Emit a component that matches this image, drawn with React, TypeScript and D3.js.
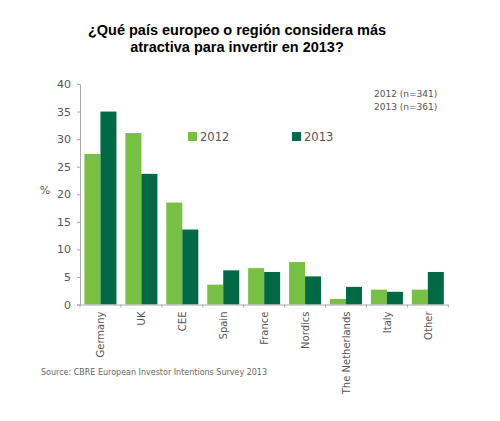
import { useEffect, useRef } from 'react';
import * as d3 from 'd3';

const categories = ['Germany', 'UK', 'CEE', 'Spain', 'France', 'Nordics', 'The Netherlands', 'Italy', 'Other'];
const values2012 = [27.3, 31.1, 18.5, 3.6, 6.6, 7.7, 1.0, 2.7, 2.7];
const values2013 = [35.0, 23.7, 13.6, 6.2, 5.9, 5.1, 3.2, 2.3, 5.9];
const yTicks = [0, 5, 10, 15, 20, 25, 30, 35, 40];
const titleLines = ['¿Qué país europeo o región considera más', 'atractiva para invertir en 2013?'];
const sampleNotes = ['2012 (n=341)', '2013 (n=361)'];

const light = '#77c043';
const dark = '#006a47';
const grey = '#555';

export default function App() {
  const svgRef = useRef<SVGSVGElement>(null);

  useEffect(() => {
    if (!svgRef.current) return;
    const width = 500;
    const height = 421;
    const svg = d3.select(svgRef.current);
    svg.selectAll('*').remove();
    svg.attr('width', width).attr('height', height).attr('viewBox', `0 0 ${width} ${height}`);

    const left = 80;
    const right = 448.3;
    const top = 84;
    const bottom = 304.5;

    // Scales
    const x = d3.scaleBand().domain(categories).range([left, right]).paddingInner(0).paddingOuter(0);
    const inner = d3.scaleBand().domain(['2012', '2013']).range([0, 32]);
    const y = d3.scaleLinear().domain([0, 40]).range([bottom, top]);

    // Title
    svg
      .append('g')
      .selectAll('text')
      .data(titleLines)
      .enter()
      .append('text')
      .attr('x', 237)
      .attr('y', (_, i) => 35 + i * 16.5)
      .attr('text-anchor', 'middle')
      .attr('font-family', 'Arial, "Liberation Sans", sans-serif')
      .attr('font-weight', 'bold')
      .attr('font-size', '14.5px')
      .attr('fill', '#000')
      .text((d) => d);

    // Bars
    const groups = svg
      .append('g')
      .selectAll('g')
      .data(categories)
      .enter()
      .append('g')
      .attr('transform', (d) => `translate(${x(d)! + (x.bandwidth() - 32) / 2},0)`);

    groups
      .append('rect')
      .attr('x', inner('2012')!)
      .attr('y', (_, i) => y(values2012[i]))
      .attr('width', inner.bandwidth())
      .attr('height', (_, i) => bottom - y(values2012[i]))
      .attr('fill', light);

    groups
      .append('rect')
      .attr('x', inner('2013')!)
      .attr('y', (_, i) => y(values2013[i]))
      .attr('width', inner.bandwidth())
      .attr('height', (_, i) => bottom - y(values2013[i]))
      .attr('fill', dark);

    // Y axis
    const yAxis = svg
      .append('g')
      .attr('transform', `translate(${left},0)`)
      .call(d3.axisLeft(y).tickValues(yTicks).tickSize(3).tickPadding(6));
    yAxis
      .selectAll('text')
      .attr('fill', grey)
      .attr('font-size', '11px')
      .attr('font-family', '"DejaVu Sans", sans-serif');

    // X axis, ticks at band boundaries
    const xAxis = svg.append('g');
    xAxis
      .append('line')
      .attr('x1', left)
      .attr('x2', right)
      .attr('y1', bottom + 0.5)
      .attr('y2', bottom + 0.5)
      .attr('stroke', '#aaa');
    xAxis
      .selectAll('line.tick')
      .data([...categories.map((c) => x(c)!), right])
      .enter()
      .append('line')
      .attr('class', 'tick')
      .attr('x1', (d) => d)
      .attr('x2', (d) => d)
      .attr('y1', bottom)
      .attr('y2', bottom + 3)
      .attr('stroke', '#aaa');
    xAxis
      .selectAll('text')
      .data(categories)
      .enter()
      .append('text')
      .attr('transform', (d) => `translate(${x(d)! + x.bandwidth() / 2 + 4},${bottom + 7}) rotate(-90)`)
      .attr('text-anchor', 'end')
      .attr('fill', grey)
      .attr('font-size', '10px')
      .attr('font-family', '"DejaVu Sans", sans-serif')
      .text((d) => d);

    svg.selectAll('.domain, .tick line').attr('stroke', '#aaa');

    // % label
    svg
      .append('text')
      .attr('x', 45)
      .attr('y', 194)
      .attr('text-anchor', 'middle')
      .attr('fill', grey)
      .attr('font-size', '11px')
      .attr('font-family', '"DejaVu Sans", sans-serif')
      .text('%');

    // Legend
    const legendItems = [
      { label: '2012', color: light, x: 188 },
      { label: '2013', color: dark, x: 292 },
    ];
    const legend = svg.append('g');
    legendItems.forEach((item) => {
      legend
        .append('rect')
        .attr('x', item.x)
        .attr('y', 132)
        .attr('width', 9)
        .attr('height', 9)
        .attr('fill', item.color);
      legend
        .append('text')
        .attr('x', item.x + 12)
        .attr('y', 141)
        .attr('fill', grey)
        .attr('font-size', '11.5px')
        .attr('font-family', '"DejaVu Sans", sans-serif')
        .text(item.label);
    });

    // n notes
    svg
      .append('g')
      .selectAll('text')
      .data(sampleNotes)
      .enter()
      .append('text')
      .attr('x', 374)
      .attr('y', (_, i) => 97 + i * 13)
      .attr('fill', grey)
      .attr('font-size', '9px')
      .attr('font-family', '"DejaVu Sans", sans-serif')
      .text((d) => d);

    // Source
    svg
      .append('text')
      .attr('x', 41)
      .attr('y', 375)
      .attr('fill', '#666')
      .attr('font-size', '8px')
      .attr('font-family', '"DejaVu Sans", sans-serif')
      .text('Source: CBRE European Investor Intentions Survey 2013');
  }, []);

  return (
    <div style={{ position: 'absolute', left: 0, top: 0 }}>
      <svg ref={svgRef} style={{ display: 'block' }} />
    </div>
  );
}
